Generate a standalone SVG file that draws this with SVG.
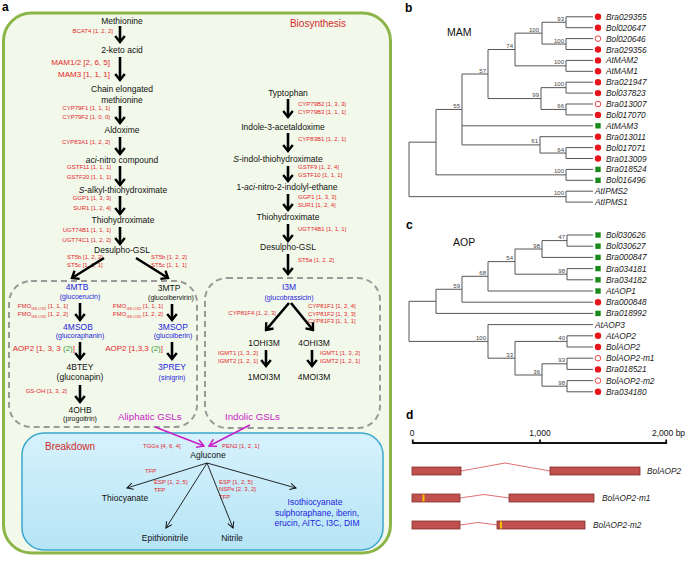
<svg xmlns="http://www.w3.org/2000/svg" width="685" height="561" viewBox="0 0 685 561">
<defs>
<style>
text { font-family: "Liberation Sans", Arial, Helvetica, sans-serif; }
.blk { font-size: 8.5px; fill: #111; text-anchor: middle; }
.bl { fill: #2323dd; }
.sm { font-size: 7px; }
.red { font-size: 6px; fill: #e3262b; }
.redR { font-size: 6px; fill: #e3262b; text-anchor: end; }
.redB { font-size: 8px; fill: #e3262b; text-anchor: end; }
.grn { fill: #3a9a3a; }
.mag { font-size: 9.7px; fill: #c81ec8; }
.ttl { font-size: 10px; fill: #d02a2a; }
.pl { font-size: 12px; font-weight: bold; fill: #000; }
.arr { stroke: #000; stroke-width: 2.6; fill: none; marker-end: url(#ah); }
.arr2 { stroke: #111; stroke-width: 0.9; fill: none; marker-end: url(#ahs); }
.arrm { stroke: #c81ec8; stroke-width: 1.5; fill: none; marker-end: url(#ahm); }
.dash { fill: none; stroke: #9a9a9a; stroke-width: 2; stroke-dasharray: 6 4; }
.tree { stroke: #555; stroke-width: 1; fill: none; }
.bs { font-size: 6px; fill: #444; text-anchor: end; }
.leaf { font-size: 8.3px; font-style: italic; fill: #222; }
.dot { fill: #e8141c; }
.odot { fill: #fff; stroke: #e8141c; stroke-width: 0.8; }
.sq { fill: #1a8a1a; }
.exon { fill: #c0504d; stroke: #80302c; stroke-width: 0.8; }
.intr { fill: none; stroke: #e07070; stroke-width: 1; }
.ymk { stroke: #f5c000; stroke-width: 2; }
</style>
<marker id="ah" markerUnits="userSpaceOnUse" viewBox="0 0 10 12" markerWidth="10" markerHeight="12" refX="8" refY="6" orient="auto">
<path d="M2,1.2 L8,6 L2,10.8" fill="none" stroke="#000" stroke-width="2.4"/>
</marker>
<marker id="ahs" markerUnits="userSpaceOnUse" viewBox="0 0 8 8" markerWidth="8" markerHeight="8" refX="7" refY="4" orient="auto">
<path d="M1,0.8 L7,4 L1,7.2" fill="none" stroke="#111" stroke-width="1"/>
</marker>
<marker id="ahm" markerUnits="userSpaceOnUse" viewBox="0 0 10 10" markerWidth="10" markerHeight="10" refX="8.5" refY="5" orient="auto">
<path d="M1.5,1 L8.5,5 L1.5,9" fill="none" stroke="#c81ec8" stroke-width="1.5"/>
</marker>
<linearGradient id="bg" x1="0" y1="0" x2="0" y2="1">
<stop offset="0" stop-color="#d6f2fc"/>
<stop offset="1" stop-color="#b6e4f6"/>
</linearGradient>
</defs>
<rect width="685" height="561" fill="#fff"/>

<!-- Panel a frames -->
<text class="pl" x="2" y="11">a</text>
<rect x="3.5" y="13" width="387" height="540" rx="28" fill="#f3f9ea" stroke="#8cb548" stroke-width="3"/>
<text class="ttl" x="318" y="27" text-anchor="middle">Biosynthesis</text>
<rect class="dash" x="9" y="281" width="188" height="146" rx="22"/>
<rect class="dash" x="205" y="278" width="175" height="150" rx="22"/>
<rect x="22" y="433" width="361" height="117" rx="22" fill="url(#bg)" stroke="#3aa7cf" stroke-width="1.5"/>
<text class="ttl" x="45" y="450">Breakdown</text>

<!-- Aliphatic / methionine pathway nodes -->
<g id="n-methionine"><text class="blk" x="122" y="23.5" font-size="10">Methionine</text></g>
<g id="n-2keto"><text class="blk" x="122" y="53">2-keto acid</text></g>
<g id="n-chain"><text class="blk" x="122" y="92">Chain elongated</text><text class="blk" x="122" y="103">methionine</text></g>
<g id="n-aldoxime"><text class="blk" x="122" y="133">Aldoxime</text></g>
<g id="n-aci"><text class="blk" x="122" y="163"><tspan font-style="italic">aci</tspan>-nitro compound</text></g>
<g id="n-salkyl"><text class="blk" x="123" y="193"><tspan font-style="italic">S</tspan>-alkyl-thiohydroximate</text></g>
<g id="n-thio1"><text class="blk" x="123" y="223">Thiohydroximate</text></g>
<g id="n-desulpho1"><text class="blk" x="122" y="253">Desulpho-GSL</text></g>

<g id="n-4mtb"><text class="blk bl" x="77" y="290">4MTB</text><text class="blk bl sm" x="80" y="299">(glucoerucin)</text></g>
<g id="n-3mtp"><text class="blk" x="169" y="291">3MTP</text><text class="blk sm" x="171" y="300">(glucoibervirin)</text></g>
<g id="n-4msob"><text class="blk bl" x="78" y="330">4MSOB</text><text class="blk bl sm" x="80" y="338">(glucoraphanin)</text></g>
<g id="n-3msop"><text class="blk bl" x="173" y="330">3MSOP</text><text class="blk bl sm" x="173" y="338">(glucoiberin)</text></g>
<g id="n-4btey"><text class="blk" x="80" y="370">4BTEY</text><text class="blk" x="80" y="380">(gluconapin)</text></g>
<g id="n-3prey"><text class="blk bl" x="172" y="370">3PREY</text><text class="blk bl sm" x="172" y="380">(sinigrin)</text></g>
<g id="n-4ohb"><text class="blk" x="80" y="413">4OHB</text><text class="blk sm" x="80" y="421">(progoitrin)</text></g>
<g id="n-aliphatic"><text class="mag" x="118" y="420">Aliphatic GSLs</text></g>

<!-- Indolic pathway nodes -->
<g id="n-tryptophan"><text class="blk" x="288" y="96">Typtophan</text></g>
<g id="n-indole"><text class="blk" x="283" y="130">Indole-3-acetaldoxime</text></g>
<g id="n-sindol"><text class="blk" x="278" y="162"><tspan font-style="italic">S</tspan>-indol-thiohydroximate</text></g>
<g id="n-acinitro"><text class="blk" x="287" y="190">1-<tspan font-style="italic">aci</tspan>-nitro-2-indolyl-ethane</text></g>
<g id="n-thio2"><text class="blk" x="288" y="220">Thiohydroximate</text></g>
<g id="n-desulpho2"><text class="blk" x="288" y="250">Desulpho-GSL</text></g>
<g id="n-i3m"><text class="blk bl" x="289" y="290">I3M</text><text class="blk bl sm" x="289" y="300">(glucobrassicin)</text></g>
<g id="n-1ohi3m"><text class="blk" x="264" y="346">1OHI3M</text></g>
<g id="n-4ohi3m"><text class="blk" x="314" y="346">4OHI3M</text></g>
<g id="n-1moi3m"><text class="blk" x="264" y="380">1MOI3M</text></g>
<g id="n-4moi3m"><text class="blk" x="314" y="380">4MOI3M</text></g>
<g id="n-indolic"><text class="mag" x="225" y="420">Indolic GSLs</text></g>

<!-- Breakdown nodes -->
<g id="n-aglucone"><text class="blk" x="208" y="458" font-size="9.5">Aglucone</text></g>
<g id="n-thiocyanate"><text class="blk" x="125" y="501">Thiocyanate</text></g>
<g id="n-epithionitrile"><text class="blk" x="165" y="541">Epithionitrile</text></g>
<g id="n-nitrile"><text class="blk" x="232" y="541">Nitrile</text></g>
<g id="n-isothiocyanate"><text class="blk bl" x="315" y="505" font-size="9">Isothiocyanate</text><text class="blk bl" x="317" y="516" font-size="9">sulphoraphane, iberin,</text><text class="blk bl" x="317" y="526" font-size="9">erucin, AITC, I3C, DIM</text></g>

<!-- Enzyme labels -->
<g id="enzymes">
<text class="redR" x="113" y="33">BCAT4 [1, 2, 2]</text>
<text class="redB" x="110" y="65">MAM1/2 [2, 6, 5]</text>
<text class="redB" x="110" y="77">MAM3 [1, 1, 1]</text>
<text class="redR" x="110" y="110">CYP79F1 [1, 1, 1]</text>
<text class="redR" x="110" y="119">CYP79F2 [1, 0, 0]</text>
<text class="redR" x="110" y="144">CYP83A1 [1, 2, 2]</text>
<text class="redR" x="111" y="169">GSTF11 [1, 1, 1]</text>
<text class="redR" x="111" y="179">GSTF20 [1, 1, 1]</text>
<text class="redR" x="111" y="200">GGP1 [1, 3, 3]</text>
<text class="redR" x="111" y="210">SUR1 [1, 2, 4]</text>
<text class="redR" x="111" y="232">UGT74B1 [1, 1, 1]</text>
<text class="redR" x="111" y="242">UGT74C1 [1, 2, 2]</text>
<text class="red" x="67" y="259">ST5b [1, 2, 2]</text>
<text class="red" x="67" y="267">ST5c [1, 1, 1]</text>
<text class="red" x="151" y="259">ST5b [1, 2, 2]</text>
<text class="red" x="151" y="267">ST5c [1, 1, 1]</text>
<text class="redR" x="68" y="308">FMO<tspan font-size="4" dy="1.5">GS-OX2</tspan><tspan dy="-1.5"> [1, 1, 1]</tspan></text>
<text class="redR" x="68" y="316">FMO<tspan font-size="4" dy="1.5">GS-OX5</tspan><tspan dy="-1.5"> [1, 2, 2]</tspan></text>
<text class="redR" x="163" y="308">FMO<tspan font-size="4" dy="1.5">GS-OX2</tspan><tspan dy="-1.5"> [1, 1, 1]</tspan></text>
<text class="redR" x="163" y="316">FMO<tspan font-size="4" dy="1.5">GS-OX5</tspan><tspan dy="-1.5"> [1, 2, 2]</tspan></text>
<text class="redB" x="75" y="351">AOP2 [1, 3, 3 <tspan class="grn">(2)</tspan>]</text>
<text class="redB" x="163" y="351">AOP2 [1,3,3 <tspan class="grn">(2)</tspan>]</text>
<text class="redR" x="67" y="393">GS-OH [1, 3, 2]</text>
<text class="red" x="298" y="106">CYP79B2 [1, 3, 3]</text>
<text class="red" x="298" y="114">CYP79B3 [1, 1, 1]</text>
<text class="red" x="298" y="141">CYP83B1 [1, 2, 1]</text>
<text class="red" x="298" y="169">GSTF9 [1, 2, 4]</text>
<text class="red" x="298" y="177">GSTF10 [1, 1, 1]</text>
<text class="red" x="298" y="199">GGP1 [1, 3, 3]</text>
<text class="red" x="298" y="207">SUR1 [1, 2, 4]</text>
<text class="red" x="298" y="231">UGT74B1 [1, 1, 1]</text>
<text class="red" x="298" y="262">ST5a [1, 2, 2]</text>
<text class="redR" x="276" y="315">CYP81F4 [1, 2, 3]</text>
<text class="red" x="308" y="308">CYP81F1 [1, 2, 4]</text>
<text class="red" x="308" y="316">CYP81F2 [1, 3, 3]</text>
<text class="red" x="308" y="323">CYP81F3 [1, 1, 1]</text>
<text class="redR" x="258" y="355">IGMT1 [1, 3, 2]</text>
<text class="redR" x="258" y="363">IGMT2 [1, 2, 1]</text>
<text class="red" x="320" y="355">IGMT1 [1, 3, 2]</text>
<text class="red" x="320" y="363">IGMT2 [1, 2, 1]</text>
<text class="red" x="143" y="448">TGGs [4, 6, 4]</text>
<text class="red" x="222" y="448">PEN2 [1, 2, 1]</text>
<text class="red" x="145" y="473">TFP</text>
<text class="red" x="154" y="484">ESP [1, 2, 5]</text>
<text class="red" x="154" y="492">TFP</text>
<text class="red" x="219" y="484">ESP [1, 2, 5]</text>
<text class="red" x="219" y="491">NSPs [2, 3, 2]</text>
<text class="red" x="219" y="499">TFP</text>
</g>

<!-- Connectors -->
<g id="connectors">
<path class="arr" d="M120,26 V42"/>
<path class="arr" d="M120,57 V80"/>
<path class="arr" d="M120,106 V123"/>
<path class="arr" d="M120,137 V154"/>
<path class="arr" d="M120,166 V185"/>
<path class="arr" d="M120,196 V214"/>
<path class="arr" d="M120,227 V244"/>
<path class="arr" d="M104,258 L72,278"/>
<path class="arr" d="M136,258 L168,278"/>
<path class="arr" d="M80,303 V320"/>
<path class="arr" d="M172,304 V320"/>
<path class="arr" d="M80,342 V359"/>
<path class="arr" d="M172,342 V359"/>
<path class="arr" d="M80,385 V402"/>
<path class="arr" d="M288,99 V117"/>
<path class="arr" d="M288,133 V151"/>
<path class="arr" d="M288,166 V181"/>
<path class="arr" d="M288,194 V210"/>
<path class="arr" d="M288,224 V241"/>
<path class="arr" d="M288,254 V274"/>
<path class="arr" d="M289,303 L266,330"/>
<path class="arr" d="M291,303 L313,330"/>
<path class="arr" d="M266,350 V366"/>
<path class="arr" d="M312,350 V366"/>
<path class="arrm" d="M155,427 L204,446"/>
<path class="arrm" d="M250,425 L209,446"/>
<path class="arr2" d="M207,463 L127,488"/>
<path class="arr2" d="M207,463 L166,528"/>
<path class="arr2" d="M207,463 L233,528"/>
<path class="arr2" d="M207,463 L296,488"/>
</g>

<!-- Panel b -->
<g id="panel-b">
<text class="pl" x="405" y="12">b</text>
<text x="447" y="36" font-size="10.5" fill="#111">MAM</text>
<path class="tree" d="
M566,16.8 V27.7 M566,38.6 V49.5 M542,22.25 V44.05 M566,60.4 V71.3 M515,33.15 V65.85
M566,82.2 V93.1 M566,104 V114.9 M541,87.65 V109.45 M488,49.5 V98.55
M566,147.6 V158.5 M540,136.7 V153.05 M462,74 V144.9 M566,169.4 V180.3 M436,109.45 V174.85
M566,191.2 V202.1 M409,142.15 V196.65
M566,16.8 H593 M566,27.7 H593 M566,38.6 H593 M566,49.5 H593 M566,60.4 H593 M566,71.3 H593
M566,82.2 H593 M566,93.1 H593 M566,104 H593 M566,114.9 H593 M462,125.8 H593 M540,136.7 H593
M566,147.6 H593 M566,158.5 H593 M566,169.4 H593 M566,180.3 H593 M566,191.2 H593 M566,202.1 H593
M542,22.25 H566 M542,44.05 H566 M515,33.15 H542 M515,65.85 H566 M488,49.5 H515
M541,87.65 H566 M541,109.45 H566 M488,98.55 H541 M462,74 H488 M540,153.05 H566 M462,144.9 H540
M436,109.45 H462 M436,174.85 H566 M409,142.15 H436 M409,196.65 H566"/>
<text class="bs" x="564" y="20.7">93</text>
<text class="bs" x="564" y="42.5">100</text>
<text class="bs" x="539" y="31.6">100</text>
<text class="bs" x="564" y="64.3">100</text>
<text class="bs" x="513" y="48">74</text>
<text class="bs" x="564" y="86.1">100</text>
<text class="bs" x="564" y="107.9">66</text>
<text class="bs" x="539" y="97">99</text>
<text class="bs" x="486" y="72.5">57</text>
<text class="bs" x="564" y="151.5">64</text>
<text class="bs" x="538" y="143.4">61</text>
<text class="bs" x="460" y="107.9">55</text>
<text class="bs" x="564" y="173.3">100</text>
<text class="bs" x="564" y="195.1">100</text>
<circle class="dot" cx="598" cy="16.8" r="3.2"/>
<circle class="dot" cx="598" cy="27.7" r="3.2"/>
<circle class="odot" cx="598" cy="38.6" r="2.8"/>
<circle class="dot" cx="598" cy="49.5" r="3.2"/>
<circle class="dot" cx="598" cy="60.4" r="3.2"/>
<circle class="dot" cx="598" cy="71.3" r="3.2"/>
<circle class="dot" cx="598" cy="82.2" r="3.2"/>
<circle class="dot" cx="598" cy="93.1" r="3.2"/>
<circle class="odot" cx="598" cy="104" r="2.8"/>
<circle class="dot" cx="598" cy="114.9" r="3.2"/>
<rect class="sq" x="595.3" y="123.1" width="5.4" height="5.4"/>
<circle class="dot" cx="598" cy="136.7" r="3.2"/>
<circle class="dot" cx="598" cy="147.6" r="3.2"/>
<circle class="dot" cx="598" cy="158.5" r="3.2"/>
<rect class="sq" x="595.3" y="166.7" width="5.4" height="5.4"/>
<rect class="sq" x="595.3" y="177.6" width="5.4" height="5.4"/>
<text class="leaf" x="606" y="19.8">Bra029355</text>
<text class="leaf" x="606" y="30.7">Bol020647</text>
<text class="leaf" x="606" y="41.6">Bol020646</text>
<text class="leaf" x="606" y="52.5">Bra029356</text>
<text class="leaf" x="606" y="63.4">AtMAM2</text>
<text class="leaf" x="606" y="74.3">AtMAM1</text>
<text class="leaf" x="606" y="85.2">Bra021947</text>
<text class="leaf" x="606" y="96.1">Bol037823</text>
<text class="leaf" x="606" y="107">Bra013007</text>
<text class="leaf" x="606" y="117.9">Bol017070</text>
<text class="leaf" x="606" y="128.8">AtMAM3</text>
<text class="leaf" x="606" y="139.7">Bra013011</text>
<text class="leaf" x="606" y="150.6">Bol017071</text>
<text class="leaf" x="606" y="161.5">Bra013009</text>
<text class="leaf" x="606" y="172.4">Bra018524</text>
<text class="leaf" x="606" y="183.3">Bol016496</text>
<text class="leaf" x="595" y="194.2">AtIPMS2</text>
<text class="leaf" x="595" y="205.1">AtIPMS1</text>
</g>

<!-- Panel c -->
<g id="panel-c">
<text class="pl" x="406" y="229">c</text>
<text x="453" y="246" font-size="10.5" fill="#111">AOP</text>
<path class="tree" d="
M567,235 V246.2 M542,240.6 V257.4 M567,268.6 V279.8 M515,249 V274.2 M488,261.6 V291 M462,276.3 V302.2 M436,289.25 V313.4
M567,335.8 V347 M567,358.2 V369.4 M567,380.6 V391.8 M542,363.8 V386.2 M515,341.4 V375 M488,324.6 V358.2 M409,301.3 V341.4
M567,235 H593 M567,246.2 H593 M542,257.4 H593 M567,268.6 H593 M567,279.8 H593 M488,291 H593 M462,302.2 H593 M436,313.4 H593
M488,324.6 H593 M567,335.8 H593 M567,347 H593 M567,358.2 H593 M567,369.4 H593 M567,380.6 H593 M567,391.8 H593
M542,240.6 H567 M515,249 H542 M515,274.2 H567 M488,261.6 H515 M462,276.3 H488 M436,289.25 H462 M409,301.3 H436
M515,341.4 H567 M542,363.8 H567 M542,386.2 H567 M515,375 H542 M488,358.2 H515 M409,341.4 H488"/>
<text class="bs" x="565" y="239.1">47</text>
<text class="bs" x="540" y="247.5">98</text>
<text class="bs" x="565" y="272.7">98</text>
<text class="bs" x="513" y="260.1">54</text>
<text class="bs" x="486" y="274.8">68</text>
<text class="bs" x="460" y="287.7">59</text>
<text class="bs" x="565" y="339.9">40</text>
<text class="bs" x="565" y="362.3">93</text>
<text class="bs" x="565" y="384.7">98</text>
<text class="bs" x="540" y="373.5">36</text>
<text class="bs" x="513" y="356.7">33</text>
<text class="bs" x="486" y="339.9">100</text>
<rect class="sq" x="595.3" y="232.3" width="5.4" height="5.4"/>
<rect class="sq" x="595.3" y="243.5" width="5.4" height="5.4"/>
<rect class="sq" x="595.3" y="254.7" width="5.4" height="5.4"/>
<rect class="sq" x="595.3" y="265.9" width="5.4" height="5.4"/>
<rect class="sq" x="595.3" y="277.1" width="5.4" height="5.4"/>
<rect class="sq" x="595.3" y="288.3" width="5.4" height="5.4"/>
<circle class="dot" cx="598" cy="302.2" r="3.2"/>
<rect class="sq" x="595.3" y="310.7" width="5.4" height="5.4"/>
<circle class="dot" cx="598" cy="335.8" r="3.2"/>
<circle class="dot" cx="598" cy="347" r="3.2"/>
<circle class="odot" cx="598" cy="358.2" r="2.8"/>
<circle class="dot" cx="598" cy="369.4" r="3.2"/>
<circle class="odot" cx="598" cy="380.6" r="2.8"/>
<circle class="dot" cx="598" cy="391.8" r="3.2"/>
<text class="leaf" x="606" y="238">Bol030626</text>
<text class="leaf" x="606" y="249.2">Bol030627</text>
<text class="leaf" x="606" y="260.4">Bra000847</text>
<text class="leaf" x="606" y="271.6">Bra034181</text>
<text class="leaf" x="606" y="282.8">Bra034182</text>
<text class="leaf" x="606" y="294">AtAOP1</text>
<text class="leaf" x="606" y="305.2">Bra000848</text>
<text class="leaf" x="606" y="316.4">Bra018992</text>
<text class="leaf" x="595" y="327.6">AtAOP3</text>
<text class="leaf" x="606" y="338.8">AtAOP2</text>
<text class="leaf" x="606" y="350">BolAOP2</text>
<text class="leaf" x="606" y="361.2">BolAOP2-m1</text>
<text class="leaf" x="606" y="372.4">Bra018521</text>
<text class="leaf" x="606" y="383.6">BolAOP2-m2</text>
<text class="leaf" x="606" y="394.8">Bra034180</text>
</g>

<!-- Panel d -->
<g id="panel-d">
<text class="pl" x="406" y="419">d</text>
<text x="412" y="436" font-size="8.5" fill="#111" text-anchor="middle">0</text>
<text x="540" y="436" font-size="8.5" fill="#111" text-anchor="middle">1,000</text>
<text x="652" y="436" font-size="8.5" fill="#111">2,000 bp</text>
<path d="M412,443 H667 M412.8,439.5 V443.5 M540,439.5 V443.5 M666.2,439.5 V443.5" stroke="#111" stroke-width="1.8" fill="none"/>
<polyline class="intr" points="461,471 505,463 550,471"/>
<rect class="exon" x="412" y="467" width="49" height="8"/>
<rect class="exon" x="550" y="467" width="90" height="8"/>
<text class="leaf" x="647" y="474">BolAOP2</text>
<polyline class="intr" points="460,498 484,494.5 509,498"/>
<rect class="exon" x="412" y="494" width="48" height="8"/>
<line class="ymk" x1="423.5" y1="494.5" x2="423.5" y2="501.5"/>
<rect class="exon" x="509" y="494" width="85" height="8"/>
<text class="leaf" x="602" y="501">BolAOP2-m1</text>
<polyline class="intr" points="460,525 478,522.5 497,525"/>
<rect class="exon" x="412" y="521" width="48" height="8"/>
<rect class="exon" x="497" y="521" width="88" height="8"/>
<line class="ymk" x1="501" y1="521.5" x2="501" y2="528.5"/>
<text class="leaf" x="593" y="528">BolAOP2-m2</text>
</g>
</svg>
